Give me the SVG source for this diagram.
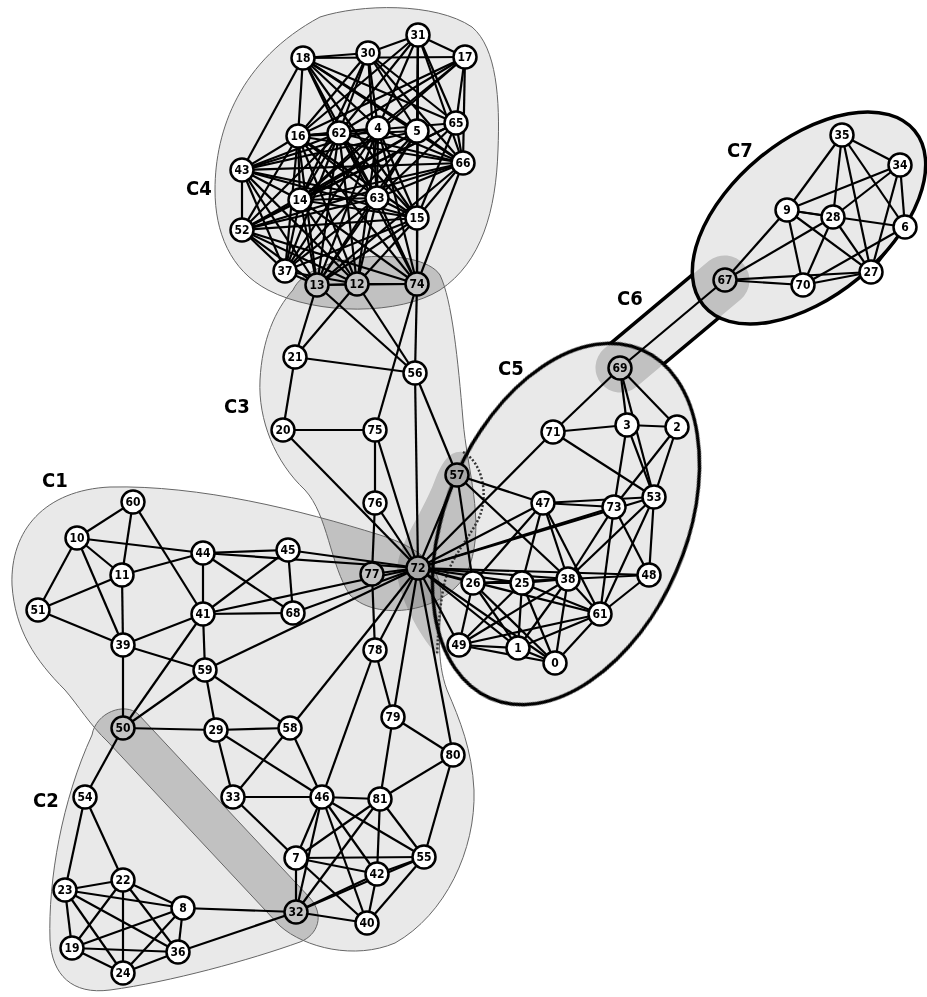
<svg xmlns="http://www.w3.org/2000/svg" width="927" height="997" viewBox="0 0 927 997">
<style>
.hf{fill:#000}
.hb{fill:none;stroke:#666;stroke-width:1}
.tb{fill:none;stroke:#000;stroke-width:3.5}
.dot{fill:none;stroke:#333;stroke-width:2.5;stroke-dasharray:2 2}
#edges line{stroke:#000;stroke-width:2.2}
.n circle{fill:#fff;stroke:#000;stroke-width:2.5}
.n.s circle{fill:#c4c4c4}
.n.d circle{fill:#a8a8a8}
.n text{font-family:"DejaVu Sans Condensed","DejaVu Sans",sans-serif;font-weight:bold;font-size:12px;text-anchor:middle;fill:#000}
.cl{font-family:"DejaVu Sans Condensed","DejaVu Sans",sans-serif;font-weight:bold;font-size:20px;fill:#000}
</style>
<defs>
<filter id="shade" filterUnits="userSpaceOnUse" x="0" y="0" width="927" height="997">
<feComponentTransfer><feFuncA type="table" tableValues="0 0.09 0.29 0.47 0.55 0.6"/></feComponentTransfer>
</filter>
<mask id="outEll" maskUnits="userSpaceOnUse" x="0" y="0" width="927" height="997">
<rect x="0" y="0" width="927" height="997" fill="#fff"/>
<ellipse cx="566" cy="524" rx="190" ry="120" transform="rotate(-66.5 566 524)" fill="#000"/>
<ellipse cx="809" cy="218" rx="137" ry="78" transform="rotate(-39.6 809 218)" fill="#000"/>
</mask>
</defs>
<rect x="0" y="0" width="927" height="997" fill="#fff"/>
<g id="hulls">
<g filter="url(#shade)">
<g id="hullC1" opacity="0.2"><path class="hf" d="M12,585 C10,530 45,490 110,487 C200,485 300,510 380,535 C420,548 442,565 441,600 C440,630 436,660 447,690 C460,720 472,750 474,790 C476,850 445,915 395,943 C355,960 305,948 280,926 L108,742 C90,725 78,705 65,690 C35,660 15,630 12,585 Z"/></g>
<g id="hullC2" opacity="0.2"><path class="hf" d="M92,735 C96,712 125,702 138,714 L310,898 C325,915 318,935 300,942 C250,960 170,982 110,990 C72,995 52,975 50,940 C48,880 62,800 92,735 Z"/></g>
<g id="hullC3" opacity="0.2"><path class="hf" d="M293,290 C310,252 420,245 440,275 C452,300 458,360 463,420 C467,470 485,520 470,565 C455,610 380,625 350,595 C330,565 328,515 305,490 C275,462 258,420 260,380 C262,340 275,310 293,290 Z"/></g>
<g id="hullC4" opacity="0.2"><path class="hf" d="M320,17 C360,4 435,2 472,27 C497,48 500,100 498,150 C496,210 482,262 440,290 C400,315 318,316 268,290 C230,270 215,232 215,190 C215,130 240,60 320,17 Z"/></g>
<g id="hullC5" opacity="0.2"><ellipse class="hf" cx="566" cy="524" rx="190" ry="120" transform="rotate(-66.5 566 524)"/><path class="hf" d="M463,452 C485,465 490,500 476,525 C462,550 450,562 445,590 C440,620 440,640 438,655 C428,648 404,610 398,580 C392,550 420,520 435,480 C442,462 450,450 463,452 Z"/></g>
<g id="hullC6" opacity="0.2"><path class="hf" d="M604,348.8 L709,260.8 A25,25 0 0 1 741,299.2 L636,387.2 A25,25 0 0 1 604,348.8 Z"/></g>
<g id="hullC7" opacity="0.2"><ellipse class="hf" cx="809" cy="218" rx="137" ry="78" transform="rotate(-39.6 809 218)"/></g>
</g>
<path class="hb" d="M12,585 C10,530 45,490 110,487 C200,485 300,510 380,535 C420,548 442,565 441,600 C440,630 436,660 447,690 C460,720 472,750 474,790 C476,850 445,915 395,943 C355,960 305,948 280,926 L108,742 C90,725 78,705 65,690 C35,660 15,630 12,585 Z"/>
<path class="hb" d="M92,735 C96,712 125,702 138,714 L310,898 C325,915 318,935 300,942 C250,960 170,982 110,990 C72,995 52,975 50,940 C48,880 62,800 92,735 Z"/>
<path class="hb" d="M293,290 C310,252 420,245 440,275 C452,300 458,360 463,420 C467,470 485,520 470,565 C455,610 380,625 350,595 C330,565 328,515 305,490 C275,462 258,420 260,380 C262,340 275,310 293,290 Z"/>
<path class="hb" d="M320,17 C360,4 435,2 472,27 C497,48 500,100 498,150 C496,210 482,262 440,290 C400,315 318,316 268,290 C230,270 215,232 215,190 C215,130 240,60 320,17 Z"/>
<path class="dot" d="M463,452 C482,462 490,495 478,520 C465,545 448,560 443,590 C438,620 438,640 437,655"/>
<ellipse class="tb" cx="566" cy="524" rx="190" ry="120" transform="rotate(-66.5 566 524)"/>
<ellipse class="tb" cx="809" cy="218" rx="137" ry="78" transform="rotate(-39.6 809 218)"/>
<path class="tb" mask="url(#outEll)" d="M604,348.8 L709,260.8 A25,25 0 0 1 741,299.2 L636,387.2 A25,25 0 0 1 604,348.8 Z"/>
</g>
<g id="edges">
<line x1="842" y1="135" x2="900" y2="165"/><line x1="842" y1="135" x2="787" y2="210"/><line x1="842" y1="135" x2="833" y2="217"/><line x1="842" y1="135" x2="871" y2="272"/><line x1="842" y1="135" x2="905" y2="227"/>
<line x1="900" y1="165" x2="787" y2="210"/><line x1="900" y1="165" x2="833" y2="217"/><line x1="900" y1="165" x2="905" y2="227"/><line x1="900" y1="165" x2="871" y2="272"/>
<line x1="787" y1="210" x2="833" y2="217"/><line x1="787" y1="210" x2="905" y2="227"/><line x1="787" y1="210" x2="871" y2="272"/><line x1="787" y1="210" x2="803" y2="285"/><line x1="787" y1="210" x2="725" y2="280"/>
<line x1="833" y1="217" x2="725" y2="280"/><line x1="833" y1="217" x2="803" y2="285"/><line x1="833" y1="217" x2="871" y2="272"/><line x1="905" y1="227" x2="871" y2="272"/><line x1="905" y1="227" x2="803" y2="285"/>
<line x1="871" y1="272" x2="803" y2="285"/><line x1="803" y1="285" x2="725" y2="280"/><line x1="871" y1="272" x2="725" y2="280"/>
<line x1="725" y1="280" x2="620" y2="368"/>
<line x1="620" y1="368" x2="553" y2="432"/><line x1="620" y1="368" x2="627" y2="425"/><line x1="620" y1="368" x2="654" y2="497"/><line x1="620" y1="368" x2="677" y2="427"/>
<line x1="553" y1="432" x2="627" y2="425"/><line x1="553" y1="432" x2="654" y2="497"/><line x1="553" y1="432" x2="418" y2="568"/>
<line x1="627" y1="425" x2="677" y2="427"/><line x1="627" y1="425" x2="614" y2="507"/><line x1="627" y1="425" x2="654" y2="497"/><line x1="677" y1="427" x2="654" y2="497"/><line x1="677" y1="427" x2="614" y2="507"/>
<line x1="543" y1="503" x2="614" y2="507"/><line x1="543" y1="503" x2="654" y2="497"/><line x1="543" y1="503" x2="457" y2="475"/><line x1="543" y1="503" x2="418" y2="568"/><line x1="543" y1="503" x2="473" y2="583"/><line x1="543" y1="503" x2="522" y2="583"/><line x1="543" y1="503" x2="568" y2="579"/><line x1="543" y1="503" x2="600" y2="614"/>
<line x1="614" y1="507" x2="568" y2="579"/><line x1="614" y1="507" x2="600" y2="614"/><line x1="614" y1="507" x2="418" y2="568"/><line x1="614" y1="507" x2="649" y2="575"/>
<line x1="654" y1="497" x2="649" y2="575"/><line x1="654" y1="497" x2="600" y2="614"/><line x1="654" y1="497" x2="568" y2="579"/><line x1="654" y1="497" x2="418" y2="568"/>
<line x1="649" y1="575" x2="418" y2="568"/><line x1="649" y1="575" x2="568" y2="579"/><line x1="649" y1="575" x2="600" y2="614"/>
<line x1="568" y1="579" x2="418" y2="568"/><line x1="568" y1="579" x2="473" y2="583"/><line x1="568" y1="579" x2="522" y2="583"/><line x1="568" y1="579" x2="600" y2="614"/><line x1="568" y1="579" x2="459" y2="645"/><line x1="568" y1="579" x2="518" y2="648"/><line x1="568" y1="579" x2="555" y2="663"/>
<line x1="522" y1="583" x2="418" y2="568"/><line x1="522" y1="583" x2="473" y2="583"/><line x1="522" y1="583" x2="459" y2="645"/><line x1="522" y1="583" x2="518" y2="648"/><line x1="522" y1="583" x2="555" y2="663"/><line x1="522" y1="583" x2="600" y2="614"/>
<line x1="473" y1="583" x2="418" y2="568"/><line x1="473" y1="583" x2="459" y2="645"/><line x1="473" y1="583" x2="518" y2="648"/><line x1="473" y1="583" x2="555" y2="663"/>
<line x1="600" y1="614" x2="459" y2="645"/><line x1="600" y1="614" x2="518" y2="648"/><line x1="600" y1="614" x2="555" y2="663"/><line x1="600" y1="614" x2="418" y2="568"/>
<line x1="459" y1="645" x2="518" y2="648"/><line x1="459" y1="645" x2="555" y2="663"/><line x1="459" y1="645" x2="418" y2="568"/><line x1="518" y1="648" x2="555" y2="663"/><line x1="518" y1="648" x2="418" y2="568"/><line x1="555" y1="663" x2="418" y2="568"/>
<line x1="457" y1="475" x2="418" y2="568"/><line x1="457" y1="475" x2="473" y2="583"/><line x1="457" y1="475" x2="568" y2="579"/><line x1="457" y1="475" x2="415" y2="373"/>
<line x1="317" y1="285" x2="295" y2="357"/><line x1="357" y1="284" x2="295" y2="357"/><line x1="317" y1="285" x2="415" y2="373"/><line x1="357" y1="284" x2="415" y2="373"/><line x1="417" y1="284" x2="415" y2="373"/><line x1="417" y1="284" x2="375" y2="430"/>
<line x1="295" y1="357" x2="415" y2="373"/><line x1="295" y1="357" x2="283" y2="430"/><line x1="283" y1="430" x2="375" y2="430"/><line x1="283" y1="430" x2="418" y2="568"/><line x1="375" y1="430" x2="375" y2="503"/><line x1="375" y1="430" x2="418" y2="568"/>
<line x1="375" y1="503" x2="418" y2="568"/><line x1="375" y1="503" x2="372" y2="574"/><line x1="415" y1="373" x2="418" y2="568"/><line x1="372" y1="574" x2="418" y2="568"/><line x1="372" y1="574" x2="375" y2="650"/>
<line x1="133" y1="502" x2="77" y2="538"/><line x1="133" y1="502" x2="122" y2="575"/><line x1="133" y1="502" x2="203" y2="614"/><line x1="77" y1="538" x2="122" y2="575"/><line x1="77" y1="538" x2="38" y2="610"/><line x1="77" y1="538" x2="123" y2="645"/><line x1="77" y1="538" x2="203" y2="553"/>
<line x1="122" y1="575" x2="38" y2="610"/><line x1="122" y1="575" x2="123" y2="645"/><line x1="122" y1="575" x2="203" y2="553"/><line x1="38" y1="610" x2="123" y2="645"/>
<line x1="203" y1="553" x2="288" y2="550"/><line x1="203" y1="553" x2="203" y2="614"/><line x1="203" y1="553" x2="293" y2="613"/><line x1="203" y1="553" x2="418" y2="568"/>
<line x1="288" y1="550" x2="203" y2="614"/><line x1="288" y1="550" x2="293" y2="613"/><line x1="288" y1="550" x2="418" y2="568"/>
<line x1="203" y1="614" x2="123" y2="645"/><line x1="203" y1="614" x2="293" y2="613"/><line x1="203" y1="614" x2="418" y2="568"/><line x1="203" y1="614" x2="205" y2="670"/><line x1="203" y1="614" x2="123" y2="728"/>
<line x1="123" y1="645" x2="205" y2="670"/><line x1="123" y1="645" x2="123" y2="728"/><line x1="293" y1="613" x2="418" y2="568"/><line x1="205" y1="670" x2="418" y2="568"/>
<line x1="205" y1="670" x2="216" y2="730"/><line x1="205" y1="670" x2="290" y2="728"/><line x1="205" y1="670" x2="123" y2="728"/><line x1="123" y1="728" x2="216" y2="730"/><line x1="123" y1="728" x2="85" y2="797"/>
<line x1="216" y1="730" x2="290" y2="728"/><line x1="216" y1="730" x2="233" y2="797"/><line x1="216" y1="730" x2="322" y2="797"/><line x1="290" y1="728" x2="233" y2="797"/><line x1="290" y1="728" x2="322" y2="797"/><line x1="290" y1="728" x2="418" y2="568"/>
<line x1="233" y1="797" x2="322" y2="797"/><line x1="233" y1="797" x2="296" y2="858"/>
<line x1="322" y1="797" x2="380" y2="799"/><line x1="322" y1="797" x2="375" y2="650"/><line x1="322" y1="797" x2="296" y2="858"/><line x1="322" y1="797" x2="296" y2="912"/><line x1="322" y1="797" x2="377" y2="874"/><line x1="322" y1="797" x2="367" y2="923"/><line x1="322" y1="797" x2="424" y2="857"/>
<line x1="380" y1="799" x2="296" y2="858"/><line x1="380" y1="799" x2="296" y2="912"/><line x1="380" y1="799" x2="377" y2="874"/><line x1="380" y1="799" x2="424" y2="857"/><line x1="380" y1="799" x2="453" y2="755"/><line x1="380" y1="799" x2="393" y2="717"/>
<line x1="296" y1="858" x2="424" y2="857"/><line x1="296" y1="858" x2="377" y2="874"/><line x1="296" y1="858" x2="367" y2="923"/><line x1="296" y1="858" x2="296" y2="912"/>
<line x1="296" y1="912" x2="377" y2="874"/><line x1="296" y1="912" x2="367" y2="923"/><line x1="296" y1="912" x2="424" y2="857"/><line x1="377" y1="874" x2="367" y2="923"/><line x1="377" y1="874" x2="424" y2="857"/><line x1="424" y1="857" x2="367" y2="923"/>
<line x1="424" y1="857" x2="453" y2="755"/><line x1="393" y1="717" x2="453" y2="755"/><line x1="393" y1="717" x2="375" y2="650"/><line x1="393" y1="717" x2="418" y2="568"/><line x1="453" y1="755" x2="418" y2="568"/><line x1="375" y1="650" x2="418" y2="568"/>
<line x1="183" y1="908" x2="296" y2="912"/><line x1="178" y1="952" x2="296" y2="912"/>
<line x1="85" y1="797" x2="65" y2="890"/><line x1="85" y1="797" x2="123" y2="880"/><line x1="123" y1="880" x2="65" y2="890"/><line x1="123" y1="880" x2="183" y2="908"/><line x1="123" y1="880" x2="72" y2="948"/><line x1="123" y1="880" x2="123" y2="973"/><line x1="123" y1="880" x2="178" y2="952"/>
<line x1="65" y1="890" x2="183" y2="908"/><line x1="65" y1="890" x2="72" y2="948"/><line x1="65" y1="890" x2="123" y2="973"/><line x1="65" y1="890" x2="178" y2="952"/>
<line x1="72" y1="948" x2="183" y2="908"/><line x1="72" y1="948" x2="123" y2="973"/><line x1="72" y1="948" x2="178" y2="952"/><line x1="123" y1="973" x2="183" y2="908"/><line x1="123" y1="973" x2="178" y2="952"/><line x1="183" y1="908" x2="178" y2="952"/>
<line x1="303" y1="58" x2="368" y2="53"/><line x1="303" y1="58" x2="465" y2="57"/><line x1="303" y1="58" x2="298" y2="136"/><line x1="303" y1="58" x2="242" y2="170"/><line x1="303" y1="58" x2="339" y2="133"/><line x1="303" y1="58" x2="378" y2="128"/><line x1="303" y1="58" x2="417" y2="131"/><line x1="303" y1="58" x2="456" y2="123"/><line x1="303" y1="58" x2="463" y2="163"/><line x1="303" y1="58" x2="377" y2="198"/><line x1="303" y1="58" x2="417" y2="218"/>
<line x1="368" y1="53" x2="418" y2="35"/><line x1="368" y1="53" x2="298" y2="136"/><line x1="368" y1="53" x2="339" y2="133"/><line x1="368" y1="53" x2="378" y2="128"/><line x1="368" y1="53" x2="417" y2="131"/><line x1="368" y1="53" x2="456" y2="123"/><line x1="368" y1="53" x2="463" y2="163"/><line x1="368" y1="53" x2="300" y2="200"/><line x1="368" y1="53" x2="377" y2="198"/>
<line x1="418" y1="35" x2="465" y2="57"/><line x1="418" y1="35" x2="298" y2="136"/><line x1="418" y1="35" x2="339" y2="133"/><line x1="418" y1="35" x2="378" y2="128"/><line x1="418" y1="35" x2="417" y2="131"/><line x1="418" y1="35" x2="456" y2="123"/><line x1="418" y1="35" x2="463" y2="163"/><line x1="418" y1="35" x2="417" y2="284"/><line x1="418" y1="35" x2="417" y2="218"/>
<line x1="465" y1="57" x2="298" y2="136"/><line x1="465" y1="57" x2="339" y2="133"/><line x1="465" y1="57" x2="378" y2="128"/><line x1="465" y1="57" x2="456" y2="123"/><line x1="465" y1="57" x2="463" y2="163"/><line x1="465" y1="57" x2="300" y2="200"/>
<line x1="298" y1="136" x2="242" y2="170"/><line x1="298" y1="136" x2="242" y2="230"/><line x1="298" y1="136" x2="339" y2="133"/><line x1="298" y1="136" x2="378" y2="128"/><line x1="298" y1="136" x2="417" y2="131"/><line x1="298" y1="136" x2="456" y2="123"/><line x1="298" y1="136" x2="463" y2="163"/><line x1="298" y1="136" x2="300" y2="200"/><line x1="298" y1="136" x2="377" y2="198"/><line x1="298" y1="136" x2="417" y2="218"/><line x1="298" y1="136" x2="285" y2="271"/><line x1="298" y1="136" x2="317" y2="285"/><line x1="298" y1="136" x2="357" y2="284"/><line x1="298" y1="136" x2="417" y2="284"/>
<line x1="339" y1="133" x2="242" y2="170"/><line x1="339" y1="133" x2="242" y2="230"/><line x1="339" y1="133" x2="300" y2="200"/><line x1="339" y1="133" x2="377" y2="198"/><line x1="339" y1="133" x2="417" y2="218"/><line x1="339" y1="133" x2="285" y2="271"/><line x1="339" y1="133" x2="317" y2="285"/><line x1="339" y1="133" x2="357" y2="284"/><line x1="339" y1="133" x2="417" y2="284"/><line x1="339" y1="133" x2="463" y2="163"/>
<line x1="378" y1="128" x2="242" y2="170"/><line x1="378" y1="128" x2="300" y2="200"/><line x1="378" y1="128" x2="377" y2="198"/><line x1="378" y1="128" x2="417" y2="218"/><line x1="378" y1="128" x2="285" y2="271"/><line x1="378" y1="128" x2="317" y2="285"/><line x1="378" y1="128" x2="357" y2="284"/><line x1="378" y1="128" x2="417" y2="284"/><line x1="378" y1="128" x2="463" y2="163"/>
<line x1="417" y1="131" x2="242" y2="170"/><line x1="417" y1="131" x2="242" y2="230"/><line x1="417" y1="131" x2="300" y2="200"/><line x1="417" y1="131" x2="377" y2="198"/><line x1="417" y1="131" x2="285" y2="271"/><line x1="417" y1="131" x2="317" y2="285"/><line x1="417" y1="131" x2="463" y2="163"/>
<line x1="456" y1="123" x2="300" y2="200"/><line x1="456" y1="123" x2="377" y2="198"/><line x1="456" y1="123" x2="417" y2="218"/><line x1="456" y1="123" x2="242" y2="230"/><line x1="456" y1="123" x2="463" y2="163"/>
<line x1="463" y1="163" x2="242" y2="170"/><line x1="463" y1="163" x2="242" y2="230"/><line x1="463" y1="163" x2="300" y2="200"/><line x1="463" y1="163" x2="377" y2="198"/><line x1="463" y1="163" x2="417" y2="218"/><line x1="463" y1="163" x2="417" y2="284"/><line x1="463" y1="163" x2="317" y2="285"/>
<line x1="242" y1="170" x2="242" y2="230"/><line x1="242" y1="170" x2="300" y2="200"/><line x1="242" y1="170" x2="377" y2="198"/><line x1="242" y1="170" x2="417" y2="218"/><line x1="242" y1="170" x2="285" y2="271"/><line x1="242" y1="170" x2="317" y2="285"/><line x1="242" y1="170" x2="357" y2="284"/>
<line x1="242" y1="230" x2="300" y2="200"/><line x1="242" y1="230" x2="377" y2="198"/><line x1="242" y1="230" x2="417" y2="218"/><line x1="242" y1="230" x2="285" y2="271"/><line x1="242" y1="230" x2="317" y2="285"/><line x1="242" y1="230" x2="357" y2="284"/><line x1="242" y1="230" x2="417" y2="284"/>
<line x1="300" y1="200" x2="377" y2="198"/><line x1="300" y1="200" x2="417" y2="218"/><line x1="300" y1="200" x2="285" y2="271"/><line x1="300" y1="200" x2="317" y2="285"/><line x1="300" y1="200" x2="357" y2="284"/><line x1="300" y1="200" x2="417" y2="284"/>
<line x1="377" y1="198" x2="417" y2="218"/><line x1="377" y1="198" x2="285" y2="271"/><line x1="377" y1="198" x2="317" y2="285"/><line x1="377" y1="198" x2="357" y2="284"/><line x1="377" y1="198" x2="417" y2="284"/>
<line x1="417" y1="218" x2="317" y2="285"/><line x1="417" y1="218" x2="357" y2="284"/><line x1="417" y1="218" x2="417" y2="284"/><line x1="417" y1="218" x2="285" y2="271"/>
<line x1="285" y1="271" x2="317" y2="285"/><line x1="285" y1="271" x2="357" y2="284"/><line x1="317" y1="285" x2="357" y2="284"/><line x1="317" y1="285" x2="417" y2="284"/><line x1="357" y1="284" x2="417" y2="284"/>
</g>
<g id="nodes">
<g id="n0" class="n"><circle cx="555" cy="663" r="11.5"/><text x="555" y="667.3">0</text></g>
<g id="n1" class="n"><circle cx="518" cy="648" r="11.5"/><text x="518" y="652.3">1</text></g>
<g id="n2" class="n"><circle cx="677" cy="427" r="11.5"/><text x="677" y="431.3">2</text></g>
<g id="n3" class="n"><circle cx="627" cy="425" r="11.5"/><text x="627" y="429.3">3</text></g>
<g id="n4" class="n"><circle cx="378" cy="128" r="11.5"/><text x="378" y="132.3">4</text></g>
<g id="n5" class="n"><circle cx="417" cy="131" r="11.5"/><text x="417" y="135.3">5</text></g>
<g id="n6" class="n"><circle cx="905" cy="227" r="11.5"/><text x="905" y="231.3">6</text></g>
<g id="n7" class="n"><circle cx="296" cy="858" r="11.5"/><text x="296" y="862.3">7</text></g>
<g id="n8" class="n"><circle cx="183" cy="908" r="11.5"/><text x="183" y="912.3">8</text></g>
<g id="n9" class="n"><circle cx="787" cy="210" r="11.5"/><text x="787" y="214.3">9</text></g>
<g id="n10" class="n"><circle cx="77" cy="538" r="11.5"/><text x="77" y="542.3">10</text></g>
<g id="n11" class="n"><circle cx="122" cy="575" r="11.5"/><text x="122" y="579.3">11</text></g>
<g id="n12" class="n s"><circle cx="357" cy="284" r="11.5"/><text x="357" y="288.3">12</text></g>
<g id="n13" class="n s"><circle cx="317" cy="285" r="11.5"/><text x="317" y="289.3">13</text></g>
<g id="n14" class="n"><circle cx="300" cy="200" r="11.5"/><text x="300" y="204.3">14</text></g>
<g id="n15" class="n"><circle cx="417" cy="218" r="11.5"/><text x="417" y="222.3">15</text></g>
<g id="n16" class="n"><circle cx="298" cy="136" r="11.5"/><text x="298" y="140.3">16</text></g>
<g id="n17" class="n"><circle cx="465" cy="57" r="11.5"/><text x="465" y="61.3">17</text></g>
<g id="n18" class="n"><circle cx="303" cy="58" r="11.5"/><text x="303" y="62.3">18</text></g>
<g id="n19" class="n"><circle cx="72" cy="948" r="11.5"/><text x="72" y="952.3">19</text></g>
<g id="n20" class="n"><circle cx="283" cy="430" r="11.5"/><text x="283" y="434.3">20</text></g>
<g id="n21" class="n"><circle cx="295" cy="357" r="11.5"/><text x="295" y="361.3">21</text></g>
<g id="n22" class="n"><circle cx="123" cy="880" r="11.5"/><text x="123" y="884.3">22</text></g>
<g id="n23" class="n"><circle cx="65" cy="890" r="11.5"/><text x="65" y="894.3">23</text></g>
<g id="n24" class="n"><circle cx="123" cy="973" r="11.5"/><text x="123" y="977.3">24</text></g>
<g id="n25" class="n"><circle cx="522" cy="583" r="11.5"/><text x="522" y="587.3">25</text></g>
<g id="n26" class="n"><circle cx="473" cy="583" r="11.5"/><text x="473" y="587.3">26</text></g>
<g id="n27" class="n"><circle cx="871" cy="272" r="11.5"/><text x="871" y="276.3">27</text></g>
<g id="n28" class="n"><circle cx="833" cy="217" r="11.5"/><text x="833" y="221.3">28</text></g>
<g id="n29" class="n"><circle cx="216" cy="730" r="11.5"/><text x="216" y="734.3">29</text></g>
<g id="n30" class="n"><circle cx="368" cy="53" r="11.5"/><text x="368" y="57.3">30</text></g>
<g id="n31" class="n"><circle cx="418" cy="35" r="11.5"/><text x="418" y="39.3">31</text></g>
<g id="n32" class="n s"><circle cx="296" cy="912" r="11.5"/><text x="296" y="916.3">32</text></g>
<g id="n33" class="n"><circle cx="233" cy="797" r="11.5"/><text x="233" y="801.3">33</text></g>
<g id="n34" class="n"><circle cx="900" cy="165" r="11.5"/><text x="900" y="169.3">34</text></g>
<g id="n35" class="n"><circle cx="842" cy="135" r="11.5"/><text x="842" y="139.3">35</text></g>
<g id="n36" class="n"><circle cx="178" cy="952" r="11.5"/><text x="178" y="956.3">36</text></g>
<g id="n37" class="n"><circle cx="285" cy="271" r="11.5"/><text x="285" y="275.3">37</text></g>
<g id="n38" class="n"><circle cx="568" cy="579" r="11.5"/><text x="568" y="583.3">38</text></g>
<g id="n39" class="n"><circle cx="123" cy="645" r="11.5"/><text x="123" y="649.3">39</text></g>
<g id="n40" class="n"><circle cx="367" cy="923" r="11.5"/><text x="367" y="927.3">40</text></g>
<g id="n41" class="n"><circle cx="203" cy="614" r="11.5"/><text x="203" y="618.3">41</text></g>
<g id="n42" class="n"><circle cx="377" cy="874" r="11.5"/><text x="377" y="878.3">42</text></g>
<g id="n43" class="n"><circle cx="242" cy="170" r="11.5"/><text x="242" y="174.3">43</text></g>
<g id="n44" class="n"><circle cx="203" cy="553" r="11.5"/><text x="203" y="557.3">44</text></g>
<g id="n45" class="n"><circle cx="288" cy="550" r="11.5"/><text x="288" y="554.3">45</text></g>
<g id="n46" class="n"><circle cx="322" cy="797" r="11.5"/><text x="322" y="801.3">46</text></g>
<g id="n47" class="n"><circle cx="543" cy="503" r="11.5"/><text x="543" y="507.3">47</text></g>
<g id="n48" class="n"><circle cx="649" cy="575" r="11.5"/><text x="649" y="579.3">48</text></g>
<g id="n49" class="n"><circle cx="459" cy="645" r="11.5"/><text x="459" y="649.3">49</text></g>
<g id="n50" class="n s"><circle cx="123" cy="728" r="11.5"/><text x="123" y="732.3">50</text></g>
<g id="n51" class="n"><circle cx="38" cy="610" r="11.5"/><text x="38" y="614.3">51</text></g>
<g id="n52" class="n"><circle cx="242" cy="230" r="11.5"/><text x="242" y="234.3">52</text></g>
<g id="n53" class="n"><circle cx="654" cy="497" r="11.5"/><text x="654" y="501.3">53</text></g>
<g id="n54" class="n"><circle cx="85" cy="797" r="11.5"/><text x="85" y="801.3">54</text></g>
<g id="n55" class="n"><circle cx="424" cy="857" r="11.5"/><text x="424" y="861.3">55</text></g>
<g id="n56" class="n"><circle cx="415" cy="373" r="11.5"/><text x="415" y="377.3">56</text></g>
<g id="n57" class="n d"><circle cx="457" cy="475" r="11.5"/><text x="457" y="479.3">57</text></g>
<g id="n58" class="n"><circle cx="290" cy="728" r="11.5"/><text x="290" y="732.3">58</text></g>
<g id="n59" class="n"><circle cx="205" cy="670" r="11.5"/><text x="205" y="674.3">59</text></g>
<g id="n60" class="n"><circle cx="133" cy="502" r="11.5"/><text x="133" y="506.3">60</text></g>
<g id="n61" class="n"><circle cx="600" cy="614" r="11.5"/><text x="600" y="618.3">61</text></g>
<g id="n62" class="n"><circle cx="339" cy="133" r="11.5"/><text x="339" y="137.3">62</text></g>
<g id="n63" class="n"><circle cx="377" cy="198" r="11.5"/><text x="377" y="202.3">63</text></g>
<g id="n65" class="n"><circle cx="456" cy="123" r="11.5"/><text x="456" y="127.3">65</text></g>
<g id="n66" class="n"><circle cx="463" cy="163" r="11.5"/><text x="463" y="167.3">66</text></g>
<g id="n67" class="n s"><circle cx="725" cy="280" r="11.5"/><text x="725" y="284.3">67</text></g>
<g id="n68" class="n"><circle cx="293" cy="613" r="11.5"/><text x="293" y="617.3">68</text></g>
<g id="n69" class="n s"><circle cx="620" cy="368" r="11.5"/><text x="620" y="372.3">69</text></g>
<g id="n70" class="n"><circle cx="803" cy="285" r="11.5"/><text x="803" y="289.3">70</text></g>
<g id="n71" class="n"><circle cx="553" cy="432" r="11.5"/><text x="553" y="436.3">71</text></g>
<g id="n72" class="n d"><circle cx="418" cy="568" r="11.5"/><text x="418" y="572.3">72</text></g>
<g id="n73" class="n"><circle cx="614" cy="507" r="11.5"/><text x="614" y="511.3">73</text></g>
<g id="n74" class="n s"><circle cx="417" cy="284" r="11.5"/><text x="417" y="288.3">74</text></g>
<g id="n75" class="n"><circle cx="375" cy="430" r="11.5"/><text x="375" y="434.3">75</text></g>
<g id="n76" class="n"><circle cx="375" cy="503" r="11.5"/><text x="375" y="507.3">76</text></g>
<g id="n77" class="n s"><circle cx="372" cy="574" r="11.5"/><text x="372" y="578.3">77</text></g>
<g id="n78" class="n"><circle cx="375" cy="650" r="11.5"/><text x="375" y="654.3">78</text></g>
<g id="n79" class="n"><circle cx="393" cy="717" r="11.5"/><text x="393" y="721.3">79</text></g>
<g id="n80" class="n"><circle cx="453" cy="755" r="11.5"/><text x="453" y="759.3">80</text></g>
<g id="n81" class="n"><circle cx="380" cy="799" r="11.5"/><text x="380" y="803.3">81</text></g>
</g>
<g id="labels">
<text class="cl" x="42" y="487">C1</text>
<text class="cl" x="33" y="807">C2</text>
<text class="cl" x="224" y="413">C3</text>
<text class="cl" x="186" y="195">C4</text>
<text class="cl" x="498" y="375">C5</text>
<text class="cl" x="617" y="305">C6</text>
<text class="cl" x="727" y="157">C7</text>
</g>
</svg>
